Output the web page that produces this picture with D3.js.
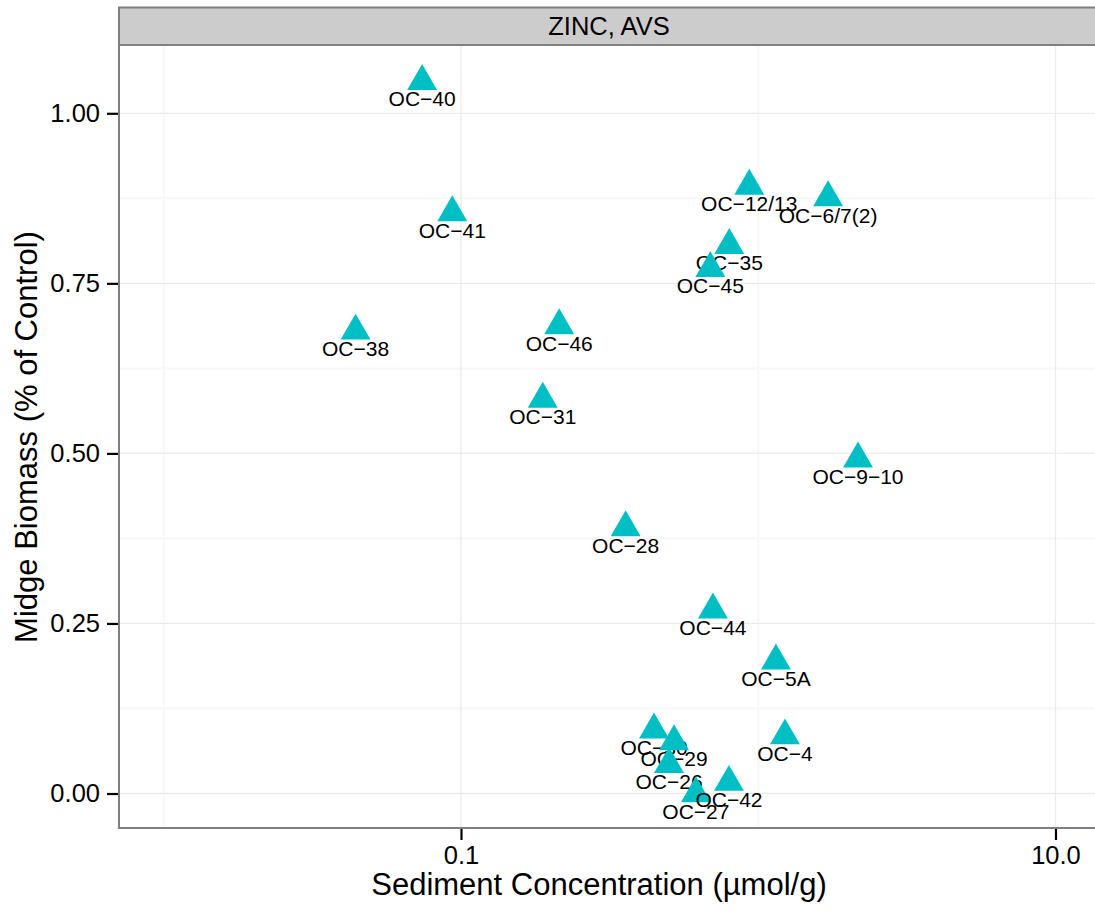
<!DOCTYPE html>
<html>
<head>
<meta charset="utf-8">
<script src="https://cdn.jsdelivr.net/npm/d3@7"></script>
<style>
  html, body { margin: 0; padding: 0; background: #fff; }
  svg { display: block; font-family: "Liberation Sans", Arial, Helvetica, sans-serif; }
</style>
</head>
<body>
<svg id="chart" width="1095" height="913"></svg>
<script>
// ---- data (drawing order matters for overlaps) ----
const stations = ["OC\u221240","OC\u221241","OC\u221238","OC\u221246","OC\u221231","OC\u221228",
  "OC\u221212/13","OC\u22126/7(2)","OC\u221235","OC\u221245","OC\u22129\u221210","OC\u221244",
  "OC\u22125A","OC\u22124","OC\u221230","OC\u221229","OC\u221226","OC\u221227","OC\u221242"];
const concentration = [0.0740,0.0935,0.0442,0.214,0.1884,0.358,
  0.933,1.718,0.799,0.690,2.166,0.704,
  1.147,1.230,0.446,0.521,0.501,0.617,0.797];
const biomass = [1.047,0.854,0.680,0.688,0.580,0.391,
  0.893,0.876,0.806,0.772,0.492,0.270,
  0.195,0.085,0.0937,0.0765,0.043,0.000,0.0166];
const yTicks = [0, 0.25, 0.5, 0.75, 1.0];
const yTickLabels = ["0.00","0.25","0.50","0.75","1.00"];
const yMinor = [0.125, 0.375, 0.625, 0.875];
const xTicks = [0.1, 10];
const xTickLabels = ["0.1","10.0"];
const xMinor = [0.01, 1];
const facetLabel = "ZINC, AVS";
const xTitle = "Sediment Concentration (\u00b5mol/g)";
const yTitle = "Midge Biomass (% of Control)";

// ---- layout ----
const svg = d3.select("#chart");
const P = { left: 119, right: 1099, top: 45, bottom: 828 };
const strip = { top: 7.5, bottom: 45 };

const x = d3.scaleLog().domain([Math.pow(10, -2.1505), Math.pow(10, 1.1464)]).range([P.left, P.right]);
const y = d3.scaleLinear().domain([-0.0507, 1.1004]).range([P.bottom, P.top]);

// panel background
svg.append("rect").attr("x", P.left).attr("y", P.top)
  .attr("width", P.right - P.left).attr("height", P.bottom - P.top).attr("fill", "#fff");

// minor grid
const grid = svg.append("g");
grid.selectAll(".ymin").data(yMinor).enter().append("line")
  .attr("x1", P.left).attr("x2", P.right).attr("y1", d => y(d)).attr("y2", d => y(d))
  .attr("stroke", "#F7F7F7").attr("stroke-width", 2);
grid.selectAll(".xmin").data(xMinor).enter().append("line")
  .attr("y1", P.top).attr("y2", P.bottom).attr("x1", d => x(d)).attr("x2", d => x(d))
  .attr("stroke", "#F7F7F7").attr("stroke-width", 2);
// major grid
grid.selectAll(".ymaj").data(yTicks).enter().append("line")
  .attr("x1", P.left).attr("x2", P.right).attr("y1", d => y(d)).attr("y2", d => y(d))
  .attr("stroke", "#EBEBEB").attr("stroke-width", 1.3);
grid.selectAll(".xmaj").data(xTicks).enter().append("line")
  .attr("y1", P.top).attr("y2", P.bottom).attr("x1", d => x(d)).attr("x2", d => x(d))
  .attr("stroke", "#EBEBEB").attr("stroke-width", 1.3);

// points + labels
const r = 17.3;
const tri = `M0,${-r}L${0.866 * r},${r / 2}L${-0.866 * r},${r / 2}Z`;
const idx = d3.range(stations.length);
const g = svg.append("g").selectAll("g").data(idx).enter().append("g")
  .attr("transform", i => `translate(${x(concentration[i])},${y(biomass[i])})`);
g.append("path").attr("d", tri).attr("fill", "#00BFC4");
g.append("text").attr("y", 25).attr("text-anchor", "middle")
  .attr("font-size", 21).attr("fill", "#000").text(i => stations[i]);

// panel border
svg.append("rect").attr("x", P.left).attr("y", P.top)
  .attr("width", P.right - P.left).attr("height", P.bottom - P.top)
  .attr("fill", "none").attr("stroke", "#7F7F7F").attr("stroke-width", 2);

// strip
svg.append("rect").attr("x", P.left).attr("y", strip.top)
  .attr("width", P.right - P.left).attr("height", strip.bottom - strip.top)
  .attr("fill", "#CCCCCC").attr("stroke", "#7F7F7F").attr("stroke-width", 2);
svg.append("text").attr("x", 609).attr("y", 35).attr("text-anchor", "middle")
  .attr("font-size", 25.5).attr("fill", "#000").text(facetLabel);

// axes
const yAxis = d3.axisLeft(y).tickValues(yTicks).tickFormat((d, i) => yTickLabels[i])
  .tickSizeInner(11).tickSizeOuter(0).tickPadding(7);
const ya = svg.append("g").attr("transform", `translate(${P.left - 1},0)`).call(yAxis);
ya.select(".domain").remove();
ya.selectAll(".tick line").attr("stroke", "#000").attr("stroke-width", 2.2);
ya.selectAll(".tick text").attr("font-size", 25.5).attr("fill", "#000")
  .attr("font-family", "Liberation Sans, Arial, sans-serif");

const xAxis = d3.axisBottom(x).tickValues(xTicks).tickFormat((d, i) => xTickLabels[i])
  .tickSizeInner(11).tickSizeOuter(0).tickPadding(6);
const xa = svg.append("g").attr("transform", `translate(0,${P.bottom + 1})`).call(xAxis);
xa.select(".domain").remove();
xa.selectAll(".tick line").attr("stroke", "#000").attr("stroke-width", 2.2);
xa.selectAll(".tick text").attr("font-size", 25.5).attr("fill", "#000")
  .attr("font-family", "Liberation Sans, Arial, sans-serif");

// titles
svg.append("text").attr("x", 599).attr("y", 895).attr("text-anchor", "middle")
  .attr("font-size", 31).attr("fill", "#000").text(xTitle);
svg.append("text").attr("transform", "translate(37,437) rotate(-90)")
  .attr("text-anchor", "middle").attr("font-size", 31).attr("fill", "#000").text(yTitle);
</script>
</body>
</html>
